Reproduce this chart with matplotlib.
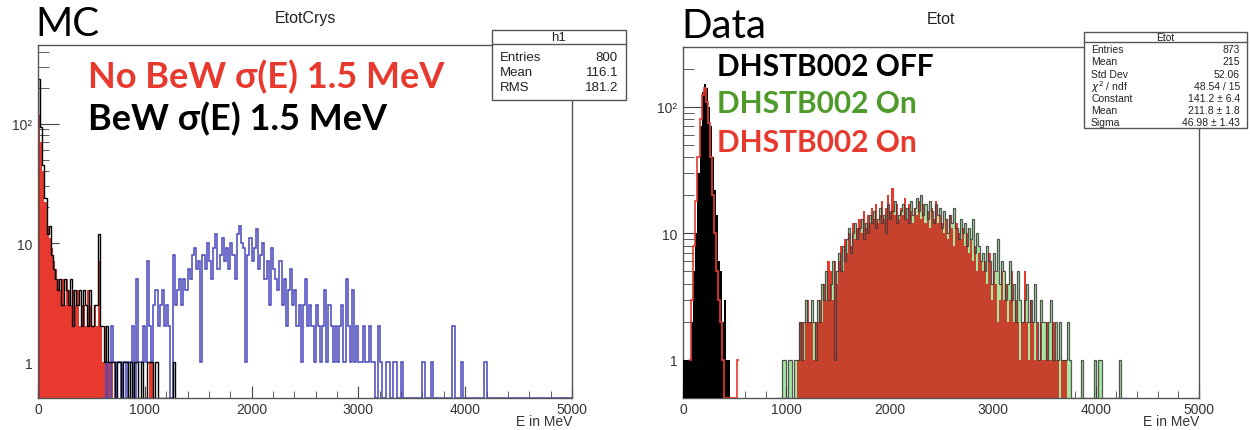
"""
Two ROOT-style log histograms: MC (EtotCrys) and Data (Etot).
"""
import numpy as np
import matplotlib
matplotlib.use('Agg')
import matplotlib.pyplot as plt
from matplotlib.patches import Rectangle
from matplotlib.ticker import FixedLocator, LogLocator, MultipleLocator, NullFormatter

W_PX, H_PX = 1250, 431
BIN_W = 20.0      # MeV per bin
X_MAX = 5000.0

# ============================================================
# MC panel data (20 MeV bins)
# ============================================================
mc_nobew_start = 0
mc_nobew = [
    120, 70, 40, 22, 14, 11, 9, 7, 6, 5,
    4, 5, 3, 5, 4, 3, 4, 3, 4, 2,
    3, 3, 2, 4, 3, 2, 3, 2, 7, 2,
    1, 2, 1, 1, 1, 0, 0, 0, 0, 0,
    0, 0, 0, 0, 0, 0, 0, 0, 0, 0,
    0, 0, 1, 1, 0,
]
mc_bew_start = 0
mc_bew = [
    240, 95, 45, 24, 12, 14, 8, 6, 5, 4,
    5, 3, 5, 4, 3, 5, 2, 4, 3, 4,
    2, 4, 3, 2, 4, 2, 3, 3, 12, 2,
    2, 1, 2, 1, 1, 1, 0, 1, 1, 0,
    1, 1, 0, 1, 0, 1, 1, 0, 1, 0,
    0, 1, 1, 1, 0, 1, 0, 0, 0, 0,
    0, 0, 0, 1,
]
mc_blue_start = 600
mc_blue = [
    0, 0, 1, 0, 2, 1, 0, 1, 1, 0,
    1, 0, 1, 1, 2, 0, 5, 1, 1, 2,
    1, 7, 2, 1, 3, 4, 2, 3, 4, 2,
    3, 2, 0, 8, 3, 4, 5, 3, 5, 4,
    6, 5, 8, 9, 6, 7, 1, 8, 6, 10,
    7, 5, 9, 12, 6, 8, 11, 7, 9, 6,
    10, 8, 5, 12, 14, 10, 9, 1, 8, 11,
    7, 9, 13, 6, 8, 10, 5, 7, 3, 9,
    6, 5, 4, 7, 3, 5, 2, 4, 6, 3,
    4, 2, 3, 1, 3, 5, 2, 3, 2, 1,
    3, 2, 1, 2, 4, 1, 3, 2, 1, 2,
    1, 2, 3, 1, 5, 2, 1, 4, 1, 2,
    1, 1, 2, 1, 1, 2, 1, 1, 0, 2,
    1, 0, 0, 1, 1, 0, 1, 1, 0, 0,
    1, 0, 0, 0, 0, 0, 0, 0, 0, 0,
    1, 0, 0, 0, 1, 0, 0, 0, 0, 0,
    0, 0, 0, 0, 2, 0, 0, 0, 1, 0,
    0, 0, 0, 0, 0, 0, 0, 0, 0, 1,
]
mc_stat_title = "h1"
mc_stat_names = ["Entries", "Mean", "RMS"]
mc_stat_values = ["800", "116.1", "181.2"]
mc_labels = ["No BeW \u03c3(E) 1.5 MeV", "BeW \u03c3(E) 1.5 MeV"]

# ============================================================
# Data panel data (20 MeV bins)
# ============================================================
data_off_start = 0
data_off = [
    1, 1, 1, 1, 2, 5, 10, 30, 70, 130,
    152, 140, 100, 70, 40, 22, 14, 6, 5, 2,
    3, 1, 1,
]
data_red_peak_start = 60
data_red_peak = [
    1, 3, 8, 18, 40, 80, 125, 140, 110, 75,
    40, 20, 10, 5, 3, 2, 1, 0, 0, 0,
    0, 0, 0, 1,
]
data_bump_start = 900
data_green_bump = [
    0, 0, 0, 1, 1, 0, 1, 1, 0, 1,
    1, 2, 1, 2, 3, 2, 2, 3, 2, 1,
    3, 2, 4, 3, 5, 3, 4, 6, 1, 5,
    7, 5, 8, 6, 9, 11, 7, 10, 12, 9,
    11, 13, 9, 12, 10, 14, 12, 15, 11, 13,
    16, 12, 14, 10, 17, 13, 15, 18, 12, 14,
    15, 17, 13, 16, 12, 18, 14, 16, 19, 15,
    20, 14, 17, 13, 18, 15, 12, 17, 14, 16,
    11, 15, 13, 10, 14, 12, 16, 11, 9, 13,
    10, 12, 8, 11, 9, 13, 7, 10, 8, 6,
    7, 5, 8, 6, 4, 7, 5, 9, 4, 6,
    5, 3, 4, 6, 3, 4, 2, 5, 3, 2,
    3, 4, 2, 3, 2, 4, 2, 1, 3, 2,
    2, 1, 2, 3, 1, 2, 1, 2, 1, 1,
    1, 2, 1, 0, 0, 0, 0, 0, 1, 0,
    0, 0, 0, 0, 1, 0, 1, 1, 0, 0,
    0, 0, 0, 0, 0, 0, 1, 0, 0, 0,
]
data_red_bump = [
    0, 0, 0, 0, 0, 0, 0, 0, 0, 0,
    1, 2, 2, 1, 2, 3, 2, 2, 1, 2,
    2, 3, 2, 4, 3, 6, 5, 3, 6, 4,
    6, 8, 5, 9, 7, 10, 8, 12, 9, 11,
    13, 10, 15, 11, 14, 12, 16, 13, 17, 12,
    14, 18, 13, 16, 20, 15, 23, 14, 17, 13,
    16, 14, 19, 13, 17, 15, 12, 16, 14, 18,
    13, 17, 12, 15, 11, 16, 13, 18, 12, 14,
    12, 10, 13, 9, 14, 11, 8, 12, 10, 9,
    11, 8, 10, 7, 9, 6, 8, 5, 7, 6,
    5, 6, 4, 7, 3, 5, 4, 2, 3, 5,
    3, 4, 2, 3, 5, 2, 3, 2, 1, 2,
    5, 2, 1, 3, 2, 1, 2, 1, 2, 1,
    1, 2, 1, 1, 2, 1, 1, 0, 1, 1,
    1, 0, 0, 0, 0, 0, 0, 0, 0, 0,
    0, 0, 0, 0, 0, 0, 0, 0, 0, 0,
    0, 0, 0, 0, 0, 0, 0, 0, 0, 0,
]
data_stat_title = "Etot"
data_stat_names = ["Entries", "Mean", "Std Dev", r"$\chi^2$ / ndf",
                   "Constant", "Mean", "Sigma"]
data_stat_values = ["873", "215", "52.06", "48.54 / 15",
                    "141.2 \u00b1 6.4", "211.8 \u00b1 1.8", "46.98 \u00b1 1.43"]
data_labels = ["DHSTB002 OFF", "DHSTB002 On", "DHSTB002 On"]

x_major = [0, 1000, 2000, 3000, 4000, 5000]
y_major = [1, 10, 100]
y_labels = ["1", "10", "10\u00b2"]

RED = '#e8392f'
GREEN = '#4e9a2a'
BLUE = '#4848bc'
LIGHT_GREEN = '#a6e8a2'
OVERLAP = '#c6422d'

TICK_FONT = 'Liberation Sans'
BIG_FONT = ['Lato', 'DejaVu Sans']


def edges_for(start, counts):
    return start + BIN_W * np.arange(len(counts) + 1)


def shown(counts, ymin):
    # ROOT draws empty bins on the bottom of the frame
    return np.maximum(np.asarray(counts, dtype=float), ymin)


def fx(x):
    return x / W_PX


def fy(y):
    return 1.0 - y / H_PX


def style_axes(ax, ymin, ymax):
    ax.set_yscale('log')
    ax.set_xlim(0, X_MAX)
    ax.set_ylim(ymin, ymax)
    for sp in ax.spines.values():
        sp.set_color('#555555')
        sp.set_linewidth(1.0)
        sp.set_zorder(5)
    ax.xaxis.set_major_locator(FixedLocator(x_major))
    ax.xaxis.set_minor_locator(MultipleLocator(200))
    ax.set_xticklabels([str(v) for v in x_major], family=TICK_FONT)
    ax.yaxis.set_major_locator(FixedLocator(y_major))
    ax.set_yticklabels(y_labels, family=TICK_FONT)
    ax.yaxis.set_minor_locator(LogLocator(base=10, subs=np.arange(2, 10), numticks=20))
    ax.yaxis.set_minor_formatter(NullFormatter())
    ax.tick_params(which='both', direction='in', top=False, right=False,
                   color='#444444', labelcolor='#333333', labelsize=10)
    ax.tick_params(axis='y', which='major', length=15, pad=4)
    ax.tick_params(axis='y', which='minor', length=8)
    ax.tick_params(axis='x', which='major', length=9, pad=3)
    ax.tick_params(axis='x', which='minor', length=5)


def stat_box(fig, x0, x1, y_top, y_head, y_bot, title, names, values,
             row_ys, fs, pad):
    fig.patches.append(Rectangle((fx(x0), fy(y_bot)), fx(x1) - fx(x0),
                                 fy(y_top) - fy(y_bot), transform=fig.transFigure,
                                 facecolor='white', edgecolor='#555555',
                                 linewidth=1.0, zorder=10))
    fig.lines.append(plt.Line2D([fx(x0), fx(x1)], [fy(y_head), fy(y_head)],
                                transform=fig.transFigure, color='#555555',
                                linewidth=1.0, zorder=11))
    fig.text(fx((x0 + x1) / 2), fy((y_top + y_head) / 2), title, ha='center',
             va='center', fontsize=fs, family=TICK_FONT, color='#222222', zorder=12)
    for name, val, yy in zip(names, values, row_ys):
        fig.text(fx(x0 + pad), fy(yy), name, ha='left', va='center',
                 fontsize=fs, family=TICK_FONT, color='#222222', zorder=12)
        fig.text(fx(x1 - pad), fy(yy), val, ha='right', va='center',
                 fontsize=fs, family=TICK_FONT, color='#222222', zorder=12)


fig = plt.figure(figsize=(W_PX / 100, H_PX / 100), dpi=100)
fig.patch.set_facecolor('white')

# ============================================================
# MC panel
# ============================================================
MC_YMIN, MC_YMAX = 0.5, 460
ax1 = fig.add_axes([fx(38), fy(399), fx(572) - fx(38), fy(46) - fy(399)])
ax1.stairs(shown(mc_nobew, MC_YMIN), edges_for(mc_nobew_start, mc_nobew),
           baseline=MC_YMIN, fill=True, color=RED, zorder=2)
blue_full = np.concatenate([mc_blue, np.zeros(int((X_MAX - mc_blue_start) / BIN_W) - len(mc_blue))])
ax1.stairs(shown(blue_full, MC_YMIN), edges_for(mc_blue_start, blue_full),
           baseline=None, color=BLUE, linewidth=1.1, zorder=3)
ax1.stairs(shown(mc_bew, MC_YMIN), edges_for(mc_bew_start, mc_bew),
           baseline=MC_YMIN, color='black', linewidth=1.0, zorder=4)
style_axes(ax1, MC_YMIN, MC_YMAX)

fig.text(fx(305), fy(18), "EtotCrys", ha='center', va='center',
         fontsize=11.5, family=TICK_FONT, color='#222222')
fig.text(fx(35), fy(25), "MC", ha='left', va='center', fontsize=29,
         family=BIG_FONT, fontweight='normal', color='black')
fig.text(fx(88), fy(77), mc_labels[0], ha='left', va='center', fontsize=26,
         family=BIG_FONT, fontweight='bold', color=RED)
fig.text(fx(88), fy(119), mc_labels[1], ha='left', va='center', fontsize=26,
         family=BIG_FONT, fontweight='bold', color='black')
fig.text(fx(572), fy(422), "E in MeV", ha='right', va='center',
         fontsize=10, family=TICK_FONT, color='#333333')
stat_box(fig, 492, 626, 31, 45, 101, mc_stat_title, mc_stat_names,
         mc_stat_values, [58, 73, 88], 9.5, 8)

# ============================================================
# Data panel
# ============================================================
DA_YMIN, DA_YMAX = 0.5, 297
ax2 = fig.add_axes([fx(683), fy(399), fx(1199) - fx(683), fy(48) - fy(399)])
green = np.asarray(data_green_bump, dtype=float)
red = np.asarray(data_red_bump, dtype=float)
bump_edges = edges_for(data_bump_start, data_green_bump)
ax2.stairs(shown(green, DA_YMIN), bump_edges, baseline=DA_YMIN, fill=True,
           color=LIGHT_GREEN, zorder=2)
ax2.stairs(shown(red, DA_YMIN), bump_edges, baseline=DA_YMIN, fill=True,
           color=RED, zorder=3)
ax2.stairs(shown(np.minimum(green, red), DA_YMIN), bump_edges, baseline=DA_YMIN,
           fill=True, color=OVERLAP, zorder=4)
ax2.stairs(shown(green, DA_YMIN), bump_edges, baseline=None, color='#3a3a3a',
           linewidth=0.9, alpha=0.85, zorder=5)
ax2.stairs(shown(data_off, DA_YMIN), edges_for(data_off_start, data_off),
           baseline=DA_YMIN, fill=True, color='black', zorder=6)
ax2.stairs(shown(data_red_peak, DA_YMIN), edges_for(data_red_peak_start, data_red_peak),
           baseline=None, color=RED, linewidth=1.2, zorder=7)
style_axes(ax2, DA_YMIN, DA_YMAX)

fig.text(fx(941), fy(20), "Etot", ha='center', va='center',
         fontsize=11.5, family=TICK_FONT, color='#222222')
fig.text(fx(681), fy(27), "Data", ha='left', va='center', fontsize=29,
         family=BIG_FONT, fontweight='normal', color='black')
for label, color, yy in zip(data_labels, ['black', GREEN, RED], [67, 104, 143]):
    fig.text(fx(717), fy(yy), label, ha='left', va='center', fontsize=21.5,
             family=BIG_FONT, fontweight='bold', color=color)
fig.text(fx(1199), fy(422), "E in MeV", ha='right', va='center',
         fontsize=10, family=TICK_FONT, color='#333333')
stat_box(fig, 1084, 1247, 33, 43, 129, data_stat_title, data_stat_names,
         data_stat_values, [50, 62, 75, 87, 99, 111, 123], 7.5, 7)

fig.savefig('out.png', dpi=100, facecolor='white')
